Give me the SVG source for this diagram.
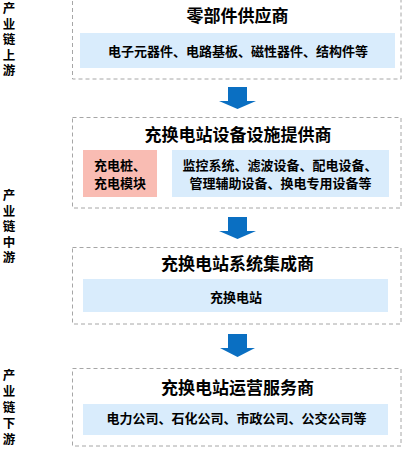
<svg xmlns="http://www.w3.org/2000/svg" width="404" height="451" viewBox="0 0 404 451">
<style>
.frame{fill:#ffffff;stroke:#a6a6a6;stroke-width:1;stroke-dasharray:4,3}
.blue{fill:#d9ecfc}
.pink{fill:#f9bcb3}
text{font-family:"Noto Sans CJK SC","Liberation Sans",sans-serif;font-weight:bold;fill:#000}
.title{font-size:17px;text-anchor:middle}
.item{font-size:13px;text-anchor:middle}
.side{font-size:12.5px;writing-mode:vertical-rl;text-anchor:start;letter-spacing:3px}
.arrow{fill:#0a6fc2}
</style>
<g id="side-labels">
<text class="side" x="9" y="2">产业链上游</text>
<text class="side" x="9" y="189">产业链中游</text>
<text class="side" x="9" y="369" style="letter-spacing:3.5px">产业链下游</text>
</g>
<g id="node-upstream">
<rect class="frame" x="72.5" y="-2" width="328.5" height="81"/>
<text class="title" x="237.5" y="22">零部件供应商</text>
<rect class="blue" x="80" y="33" width="315" height="35"/>
<text class="item" x="238" y="56">电子元器件、电路基板、磁性器件、结构件等</text>
</g>
<g id="node-equipment">
<rect class="frame" x="72.5" y="117.5" width="328.5" height="90.5"/>
<text class="title" x="238" y="141">充换电站设备设施提供商</text>
<rect class="pink" x="83" y="150" width="74" height="47"/>
<text class="item" x="120" y="170">充电桩、</text>
<text class="item" x="120" y="188">充电模块</text>
<rect class="blue" x="172" y="150" width="217" height="47"/>
<text class="item" x="280" y="170">监控系统、滤波设备、配电设备、</text>
<text class="item" x="280.5" y="188">管理辅助设备、换电专用设备等</text>
</g>
<g id="node-integrator">
<rect class="frame" x="72.5" y="247.5" width="328.5" height="76.5"/>
<text class="title" x="237.5" y="270">充换电站系统集成商</text>
<rect class="blue" x="83" y="279" width="305" height="33"/>
<text class="item" x="236" y="302">充换电站</text>
</g>
<g id="node-operator">
<rect class="frame" x="72.5" y="368.5" width="328.5" height="77.5"/>
<text class="title" x="237.5" y="394">充换电站运营服务商</text>
<rect class="blue" x="83" y="404" width="305" height="31"/>
<text class="item" x="236.5" y="423">电力公司、石化公司、市政公司、公交公司等</text>
</g>
<g id="connectors">
<polygon class="arrow" points="228,87 247,87 247,101 256,101 237.5,109 219,101 228,101"/>
<polygon class="arrow" points="228,217 247,217 247,231 256,231 237.5,239 219,231 228,231"/>
<polygon class="arrow" points="228,334 247,334 247,348 255,348 237.5,357 220,348 228,348"/>
</g>
</svg>
